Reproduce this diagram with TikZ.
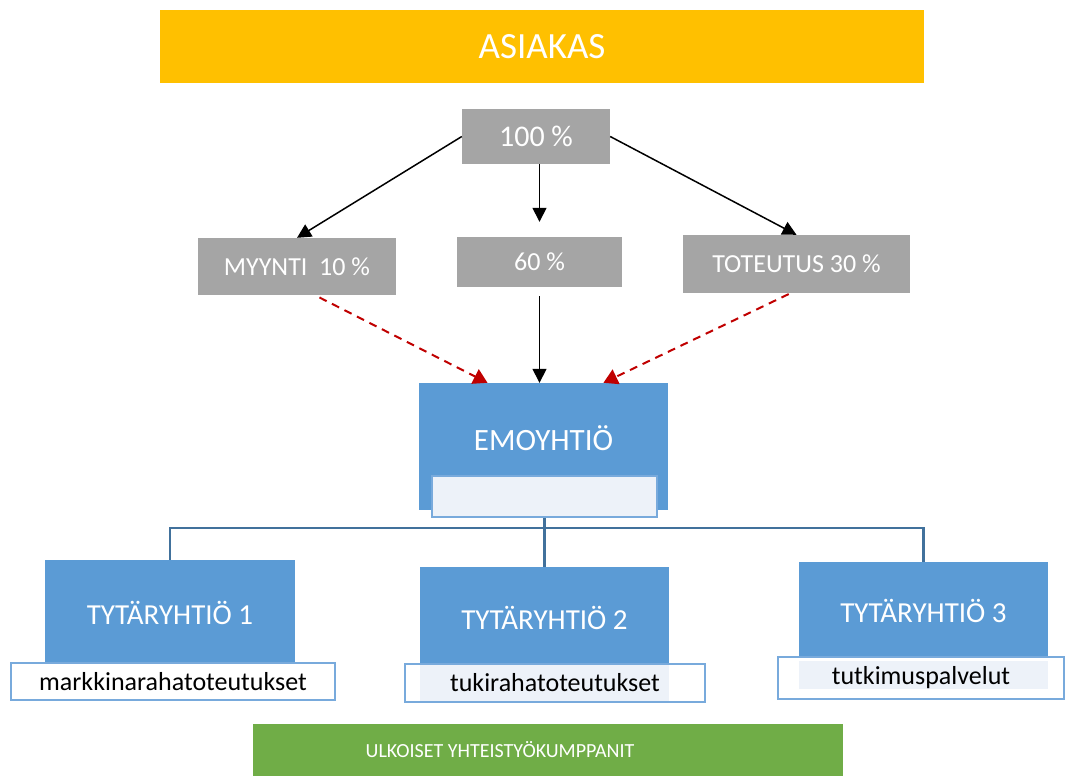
\documentclass[tikz,border=0pt]{standalone}
\usepackage{fontspec}
\setmainfont{Carlito}
\usepackage{tikz}
\usetikzlibrary{arrows.meta, positioning, calc}
\definecolor{myorange}{RGB}{255,192,0}
\definecolor{mygrey}{RGB}{165,165,165}
\definecolor{myblue}{RGB}{91,155,213}
\definecolor{mygreen}{RGB}{112,173,71}
\definecolor{mydarkblue}{RGB}{65,113,156}
\definecolor{myred}{RGB}{192,0,0}
\definecolor{mypale}{RGB}{237,242,249}
\definecolor{myframe}{RGB}{120,170,220}
\tikzset{
  headbox/.style={rectangle, fill=myorange, text=white, inner sep=0pt,
    font=\fontsize{37}{44}\selectfont},
  sharebox/.style={rectangle, fill=mygrey, text=white, inner sep=0pt,
    font=\fontsize{26}{31}\selectfont},
  firmbox/.style={rectangle, fill=myblue, text=white, inner sep=0pt,
    font=\fontsize{29}{35}\selectfont},
  tagbox/.style={rectangle, draw=myframe, fill=white, line width=2pt,
    inner sep=0pt, font=\fontsize{26}{31}\selectfont},
  partnerbox/.style={rectangle, fill=mygreen, text=white, inner sep=0pt,
    font=\fontsize{20}{24}\selectfont},
  arrow/.style={-{Triangle[length=14pt, width=14pt]}, line width=1.5pt, color=black},
  redarrow/.style={-{Triangle[length=14pt, width=16pt]}, line width=2pt,
    color=myred, dash pattern=on 8pt off 6pt},
  bus/.style={line width=2.5pt, color=mydarkblue}
}

\begin{document}
\begin{tikzpicture}[x=1pt, y=-1pt]
  \useasboundingbox (0,0) rectangle (1066,776);

  % Customer and the price split
  \node[headbox, minimum width=764pt, minimum height=73pt] (asiakas) at (542,46.5) {ASIAKAS};
  \node[sharebox, font=\fontsize{30}{36}\selectfont, minimum width=148pt, minimum height=55pt] (pct) at (536,136.5) {\raisebox{-3pt}{100 \%}};
  \node[sharebox, minimum width=198pt, minimum height=57pt] (myynti) at (297,266.5) {MYYNTI\ \ 10 \%};
  \node[sharebox, minimum width=165pt, minimum height=50pt] (sixty) at (539.5,262) {60 \%};
  \node[sharebox, minimum width=227pt, minimum height=58pt] (toteutus) at (796.5,264) {TOTEUTUS 30 \%};

  \draw[arrow] (pct.west) -- (myynti.north);
  \draw[arrow, shorten >=15pt] (sixty.north |- pct.south) -- (sixty.north);
  \draw[arrow] (pct.east) -- (toteutus.north);

  % Parent company
  \node[firmbox, minimum width=249pt, minimum height=127pt] (emo) at (543.5,446.5) {};
  \node[text=white, font=\fontsize{31}{37}\selectfont] (emotext) at (543.5,438) {EMOYHTIÖ};
  \node[rectangle, draw=myframe, fill=mypale, line width=1.5pt, minimum width=225pt, minimum height=41pt] (emosub) at (544.5,496.5) {};

  \draw[redarrow, shorten <=5pt] ([xshift=18pt]myynti.south) -- ([xshift=-56pt]emo.north);
  \draw[arrow, shorten <=9pt] (sixty.south) -- (sixty.south |- emo.north);
  \draw[redarrow, shorten <=2pt] ([xshift=-6pt]toteutus.south) -- ([xshift=60pt]emo.north);

  % Subsidiaries
  \node[firmbox, minimum width=250pt, minimum height=105pt] (tyt1) at (170,612.5) {TYTÄRYHTIÖ 1};
  \node[firmbox, minimum width=249pt, minimum height=101pt] (tyt2) at (544.5,617.5) {TYTÄRYHTIÖ 2};
  \node[firmbox, minimum width=249pt, minimum height=98pt] (tyt3) at (923.5,611) {TYTÄRYHTIÖ 3};

  \node[tagbox, minimum width=324pt, minimum height=37pt] (lab1) at (173,681.5) {markkinarahatoteutukset};
  \node[tagbox, minimum width=300pt, minimum height=38pt,
    path picture={\fill[mypale] (tyt2.west |- path picture bounding box.north) rectangle (tyt2.east |- path picture bounding box.south);}]
    (lab2) at (555,683) {tukirahatoteutukset};
  \node[tagbox, minimum width=286pt, minimum height=42pt,
    path picture={\fill[mypale] ([yshift=-4pt]tyt3.west |- path picture bounding box.north) rectangle ([yshift=10pt]tyt3.east |- path picture bounding box.south);}]
    (lab3) at (921,678) {tutkimuspalvelut};

  % Connectors from parent to subsidiaries
  \coordinate (busmid) at (543,528);
  \draw[bus] (emosub.south) -- (tyt2.north);
  \draw[bus] (tyt1.north) |- (busmid) -| (tyt3.north);

  % External partners
  \node[partnerbox, minimum width=590pt, minimum height=52pt] (ulkoiset) at (548,750) {ULKOISET YHTEISTYÖKUMPPANIT\hspace*{96pt}};
\end{tikzpicture}
\end{document}
